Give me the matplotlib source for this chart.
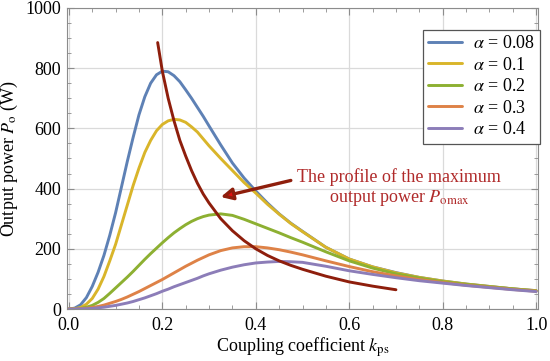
import numpy as np
import matplotlib
matplotlib.use('Agg')
import matplotlib.pyplot as plt
from matplotlib.ticker import MultipleLocator, FormatStrFormatter

plt.rcParams['font.family'] = ['Liberation Serif', 'DejaVu Serif']
plt.rcParams['mathtext.fontset'] = 'stix'

# coupling coefficient grid
k = [0, 0.0125, 0.025, 0.0375, 0.05, 0.0625, 0.075, 0.0875, 0.1, 0.1125, 0.125, 0.1375,
     0.15, 0.1625, 0.175, 0.1875, 0.2, 0.2125, 0.225, 0.2375, 0.25, 0.2625, 0.275, 0.2875, 0.3,
     0.325, 0.35, 0.375, 0.4, 0.425, 0.45, 0.475, 0.5,
     0.55, 0.6, 0.65, 0.7, 0.75, 0.8, 0.85, 0.9, 0.95, 1.0]

p_008 = [0, 3, 14, 38, 75, 122, 178, 245, 320, 405, 490, 570,
         645, 705, 750, 778, 790, 788, 775, 755, 728, 700, 670, 640, 608,
         545, 485, 435, 392, 352, 316, 285, 258,
         205, 166, 140, 121, 105, 93, 83, 75, 67, 61]
p_01 = [0, 1, 5, 16, 35, 66, 108, 160, 215, 280, 345, 410,
        468, 520, 560, 592, 613, 625, 630, 628, 620, 605, 588, 565, 542,
        500, 460, 420, 385, 348, 315, 284, 257,
        205, 166, 140, 120, 105, 93, 83, 75, 67, 61]
p_02 = [0, 0.5, 2, 6, 12, 22, 35, 52, 70, 88, 106, 125,
        145, 165, 184, 202, 220, 237, 253, 267, 280, 291, 300, 307, 312,
        316, 311, 298, 283, 268, 253, 237, 222,
        190, 160, 136, 117, 103, 91, 82, 74, 67, 60]
p_03 = [0, 0.2, 1, 2.5, 5, 8.5, 13, 19, 25, 32, 40, 49,
        58, 68, 78, 88, 98, 109, 120, 131, 142, 152, 162, 171, 180,
        194, 203, 207, 207, 203, 197, 189, 180,
        160, 141, 124, 110, 98, 88, 79, 72, 65, 59]
p_04 = [0, 0.1, 0.5, 1, 2, 4, 6, 9, 12, 16, 20, 25,
        31, 37, 44, 51, 59, 66, 74, 81, 88, 95, 102, 110, 117,
        129, 139, 147, 153, 156, 158, 157, 155,
        142, 127, 115, 104, 94, 86, 78, 71, 64, 58]

alphas = ['0.08', '0.1', '0.2', '0.3', '0.4']
series = [p_008, p_01, p_02, p_03, p_04]
colors = ['#5E81B5', '#D9B52A', '#8DB032', '#DE8247', '#8C7DB8']

# profile of maximum output power
k_max = [0.19, 0.2, 0.2125, 0.225, 0.2375, 0.25, 0.2625, 0.275, 0.2875, 0.3, 0.325,
         0.35, 0.375, 0.4, 0.425, 0.45, 0.475, 0.5, 0.55, 0.6, 0.65, 0.7]
p_max = [885, 790, 700, 625, 560, 508, 460, 418, 382, 352, 300,
         260, 227, 200, 178, 160, 145, 132, 109, 90, 76, 64]

fig = plt.figure(figsize=(5.5, 3.61), dpi=100)
ax = fig.add_axes([0.121, 0.144, 0.858, 0.834])

ax.grid(True, which='major', color='#DADADA', lw=0.9, zorder=0)

for a, p, c in zip(alphas, series, colors):
    ax.plot(k, p, color=c, lw=2.1, label=r'$\alpha$ = ' + a, zorder=3,
            solid_capstyle='round', solid_joinstyle='round')
ax.plot(k_max, p_max, color='#8E1E0C', lw=2.1, zorder=4,
        solid_capstyle='round', solid_joinstyle='round')

ax.set_xlim(-0.005, 1.005)
ax.set_ylim(0, 1000)
ax.xaxis.set_major_locator(MultipleLocator(0.2))
ax.xaxis.set_minor_locator(MultipleLocator(0.05))
ax.yaxis.set_major_locator(MultipleLocator(200))
ax.yaxis.set_minor_locator(MultipleLocator(50))
ax.xaxis.set_major_formatter(FormatStrFormatter('%.1f'))

ax.tick_params(which='both', direction='in', top=True, right=True,
               color='#8C8C8C', labelsize=13, pad=4)
ax.tick_params(axis='x', which='major', pad=6)
ax.tick_params(which='major', length=5)
ax.tick_params(which='minor', length=3)
for s in ax.spines.values():
    s.set_color('#8C8C8C')

ax.set_xlabel(r'Coupling coefficient $k_{\mathrm{ps}}$', fontsize=13, labelpad=1)
ax.set_ylabel(r'Output power $P_{\mathrm{o}}$ (W)', fontsize=13, labelpad=4)

leg = ax.legend(loc='upper right', bbox_to_anchor=(1.004, 0.928), fontsize=13,
                handlelength=1.9, handletextpad=0.6, borderpad=0.3,
                labelspacing=0.25, borderaxespad=0, fancybox=False, framealpha=1)
leg.get_frame().set_edgecolor('#555555')
leg.get_frame().set_linewidth(0.9)

ax.text(0.707, 401, 'The profile of the maximum\n' + r'output power $P_{\mathrm{omax}}$',
        ha='center', va='center', multialignment='center', fontsize=13,
        color='#B02A2A', linespacing=1.15, zorder=5)
ax.annotate('', xy=(0.325, 372), xytext=(0.475, 427),
            arrowprops=dict(arrowstyle='-|>,head_length=0.7,head_width=0.35',
                            lw=2.4, ec='#8E1E0C', fc='#E01010',
                            shrinkA=0, shrinkB=0), zorder=5)

fig.savefig('out.png', dpi=100)
